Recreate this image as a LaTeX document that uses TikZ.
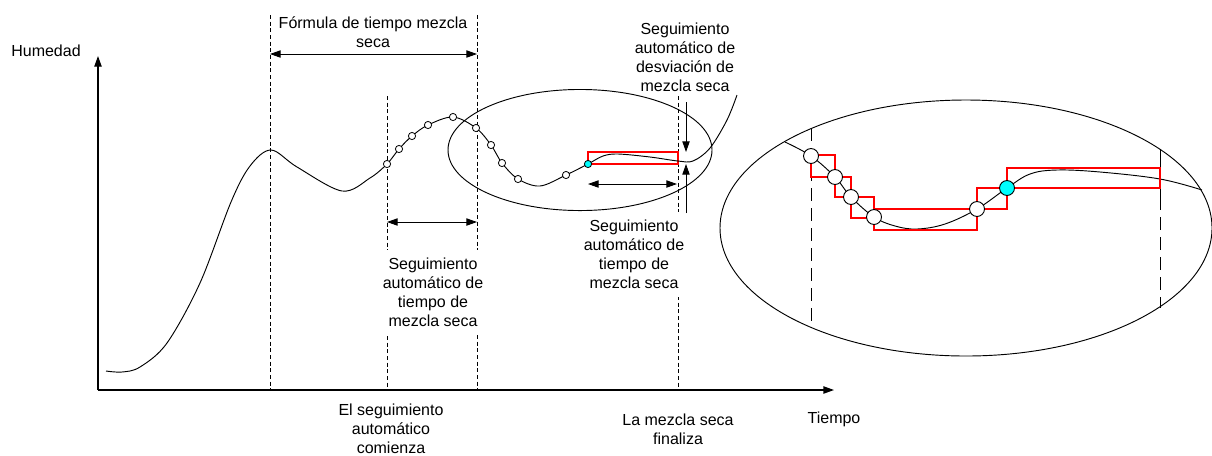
\documentclass[tikz,border=0pt]{standalone}
\usepackage{fontspec}
\setmainfont{Liberation Sans}
\usetikzlibrary{arrows.meta}
\definecolor{aqua}{RGB}{0,255,255}
\definecolor{boxred}{RGB}{255,0,0}
\tikzset{
  lbl/.style={align=center, inner sep=0pt, font=\fontsize{12}{14.25}\selectfont},
  guide/.style={densely dashed, line width=0.6pt},
  longdash/.style={dash pattern=on 10pt off 5pt},
  band/.style={draw=boxred, line width=0.9pt},
  sdot/.style={circle, draw, fill=white, inner sep=0pt, minimum size=5.4pt, line width=0.6pt},
  bdot/.style={circle, draw, fill=white, inner sep=0pt, minimum size=11.2pt, line width=0.7pt},
  tip/.style={-{Triangle[length=8pt,width=5.5pt]}},
  tips/.style={{Triangle[length=8pt,width=5.5pt]}-{Triangle[length=8pt,width=5.5pt]}},
}

\begin{document}
\begin{tikzpicture}[x=0.75pt, y=-0.75pt, line width=0.7pt]
  \useasboundingbox (0,0) rectangle (1212,455);
  \coordinate (O) at (98,390);
  \coordinate (ytop) at (98,56);
  \coordinate (xend) at (834,390);

  % axes
  \draw[line width=1pt, tip] (O) -- (ytop);
  \draw[line width=1pt, tip] (O) -- (xend);
  \node[lbl] (hum) at (46,51) {Humedad};
  \node[lbl] (tiempo) at (834,419) {Tiempo};

  % dashed time marks
  \draw[guide] (270,15) -- (270,390);
  \draw[guide] (387,96) -- (387,390);
  \draw[guide] (477,15) -- (477,390);
  \draw[guide] (678,96) -- (678,390);

  % zoom region on the curve
  \draw (580,150) ellipse [x radius=99pt, y radius=45.4pt];
  \path[band] (588,152) rectangle (678,164);

  % humidity curve
  \draw plot[smooth, tension=0.55] coordinates {(106,371) (122,372)
    (140,367) (167,343) (200,283) (231,202) (250,166) (271,150) (297,167)
    (342,191) (370,178) (387,164) (399,149) (412,136) (428,125)
    (453,117) (476,128) (491,145) (502,163) (518,179) (540,186) (566,175)
    (588,164) (603,156) (618,154) (650,157) (678,161) (693,161) (710,148)
    (727,120) (737,95)};

  \foreach \x/\y [count=\i] in {387/164, 399/149, 412/136, 428/125, 453/117,
      476/128, 491/145, 502/163, 518/179, 566/175}
    \node[sdot] (s\i) at (\x,\y) {};
  \node[sdot, fill=aqua] (scur) at (588,164) {};

  % spans
  \coordinate (fa) at (270,54);
  \coordinate (fb) at (477,54);
  \draw[tips] (fa) -- (fb);
  \coordinate (sa) at (387,222);
  \coordinate (sb) at (477,222);
  \draw[tips] (sa) -- (sb);
  \coordinate (ta) at (588,184);
  \coordinate (tb) at (677,184);
  \draw[tips] (ta) -- (tb);
  \coordinate (da) at (686,102);
  \coordinate (db) at (686,152);
  \draw[tip] (da) -- (db);
  \coordinate (ua) at (686,213);
  \coordinate (ub) at (686,164);
  \draw[tip] (ua) -- (ub);

  \node[lbl] (formula) at (373,32.5) {Fórmula de tiempo mezcla\\seca};
  \node[lbl, fill=white, inner ysep=6pt, inner xsep=1pt] (segA) at (433,292)
    {Seguimiento\\automático de\\tiempo de\\mezcla seca};
  \node[lbl, fill=white, inner ysep=6pt, inner xsep=1pt] (segB) at (634,254.5)
    {Seguimiento\\automático de\\tiempo de\\mezcla seca};
  \node[lbl] (desv) at (685,57.5)
    {Seguimiento\\automático de\\desviación de\\mezcla seca};
  \node[lbl] (comienza) at (391,429) {El seguimiento\\automático\\comienza};
  \node[lbl] (finaliza) at (678,429.5) {La mezcla seca\\finaliza};

  % enlarged view
  \draw (966,228) ellipse [x radius=184.5pt, y radius=96pt];
  \draw[longdash] (811,128) -- (811,327);
  \draw (1160,150) -- (1160,197);
  \draw[longdash] (1160,197) -- (1160,308);

  \draw plot[smooth, tension=0.6] coordinates {(785,142) (811,156) (835,177)
    (851,197) (874,217) (895,226) (917,229) (945,224) (977,209) (1007,188)
    (1030,174) (1057,170) (1100,172) (1160,179) (1202,190)};

  \path[band] (811,155) rectangle (835,177);
  \path[band] (835,177) rectangle (851,197);
  \path[band] (851,197) rectangle (874,218);
  \path[band] (874,209) rectangle (977,230);
  \path[band] (977,188) rectangle (1007,209);
  \path[band] (1007,168) rectangle (1160,188);

  \foreach \x/\y [count=\i] in {811/156, 835/177, 851/197, 874/217, 977/209}
    \node[bdot] (b\i) at (\x,\y) {};
  \node[bdot, fill=aqua] (bcur) at (1007,188) {};
\end{tikzpicture}
\end{document}
